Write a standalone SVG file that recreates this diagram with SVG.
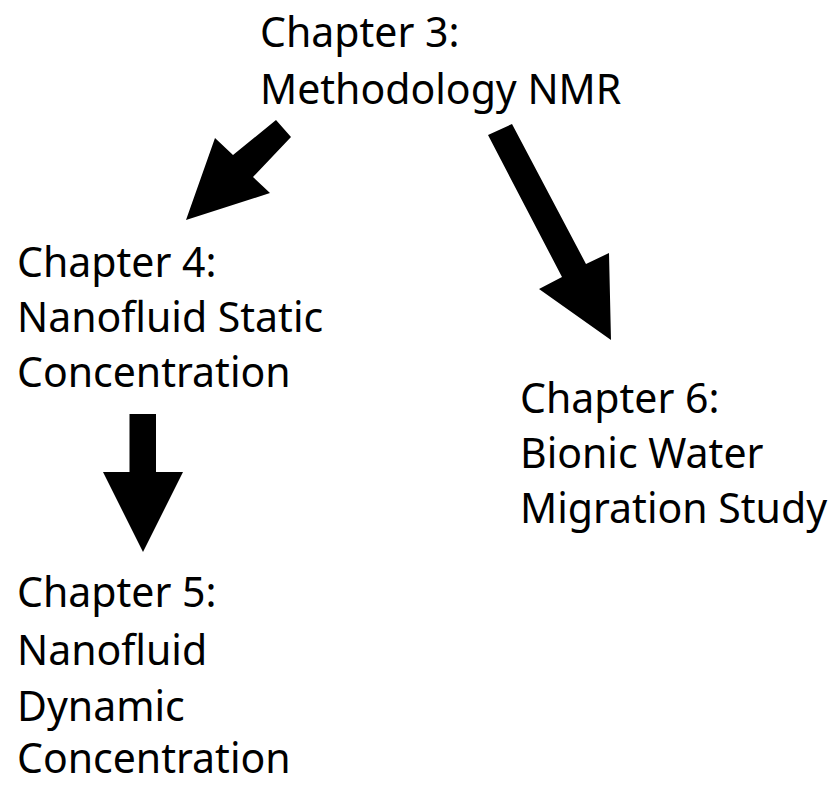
<svg xmlns="http://www.w3.org/2000/svg" width="837" height="785" viewBox="0 0 837 785">
<style>
.t{font-family:"Noto Sans","Open Sans","Liberation Sans",sans-serif;font-size:41px;fill:#000}
.a{fill:#000;stroke:none}
</style>
<rect width="837" height="785" fill="#fff"/>
<g id="connectors">
<polygon class="a" points="276,120 291,137 253,177 270,193 186,220 215,138 233,155"/>
<polygon class="a" points="488,135 512,124 586,264 609,253 611,340 539,289 562,277"/>
<polygon class="a" points="129.5,414 156,414 156,472 183,472 143,552 103,472 129.5,472"/>
</g>
<g id="ch3"><text class="t" x="260" y="47">Chapter 3:</text><text class="t" x="260" y="104">Methodology NMR</text></g>
<g id="ch4"><text class="t" x="17" y="277">Chapter 4:</text><text class="t" x="17" y="332">Nanofluid Static</text><text class="t" x="17" y="387">Concentration</text></g>
<g id="ch6"><text class="t" x="520" y="413">Chapter 6:</text><text class="t" x="520" y="468">Bionic Water</text><text class="t" x="520" y="523">Migration Study</text></g>
<g id="ch5"><text class="t" x="17" y="607">Chapter 5:</text><text class="t" x="17" y="665">Nanofluid</text><text class="t" x="17" y="721">Dynamic</text><text class="t" x="17" y="773">Concentration</text></g>
</svg>
